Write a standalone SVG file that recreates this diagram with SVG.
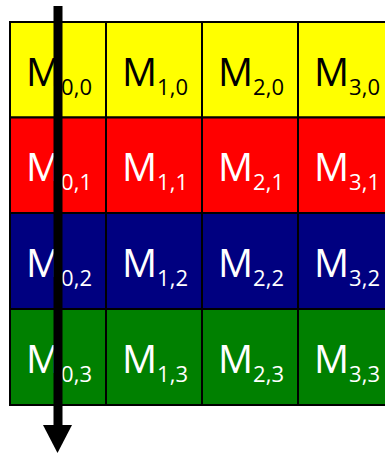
<svg xmlns="http://www.w3.org/2000/svg" width="385" height="455" viewBox="0 0 385 455">
<style>
.cell{stroke:#000;stroke-width:2}
.y{fill:#FFFF00}.r{fill:#FF0000}.b{fill:#000080}.g{fill:#008000}
text{font-family:"Open Sans","Liberation Sans",sans-serif;font-size:39px;text-anchor:middle}
.dk{fill:#000}.lt{fill:#fff}
.s{font-size:22px}
</style>
<rect width="385" height="455" fill="#fff"/>
<g id="M00"><rect class="cell y" x="10" y="22" width="96" height="95.5"/><text class="dk" x="59" y="85.5">M<tspan class="s" dy="9">0,0</tspan></text></g>
<g id="M10"><rect class="cell y" x="106" y="22" width="96" height="95.5"/><text class="dk" x="155" y="85.5">M<tspan class="s" dy="9">1,0</tspan></text></g>
<g id="M20"><rect class="cell y" x="202" y="22" width="96" height="95.5"/><text class="dk" x="251" y="85.5">M<tspan class="s" dy="9">2,0</tspan></text></g>
<g id="M30"><rect class="cell y" x="298" y="22" width="96" height="95.5"/><text class="dk" x="347" y="85.5">M<tspan class="s" dy="9">3,0</tspan></text></g>
<g id="M01"><rect class="cell r" x="10" y="117.5" width="96" height="95.5"/><text class="lt" x="59" y="181">M<tspan class="s" dy="9">0,1</tspan></text></g>
<g id="M11"><rect class="cell r" x="106" y="117.5" width="96" height="95.5"/><text class="lt" x="155" y="181">M<tspan class="s" dy="9">1,1</tspan></text></g>
<g id="M21"><rect class="cell r" x="202" y="117.5" width="96" height="95.5"/><text class="lt" x="251" y="181">M<tspan class="s" dy="9">2,1</tspan></text></g>
<g id="M31"><rect class="cell r" x="298" y="117.5" width="96" height="95.5"/><text class="lt" x="347" y="181">M<tspan class="s" dy="9">3,1</tspan></text></g>
<g id="M02"><rect class="cell b" x="10" y="213" width="96" height="96"/><text class="lt" x="59" y="276.5">M<tspan class="s" dy="9">0,2</tspan></text></g>
<g id="M12"><rect class="cell b" x="106" y="213" width="96" height="96"/><text class="lt" x="155" y="276.5">M<tspan class="s" dy="9">1,2</tspan></text></g>
<g id="M22"><rect class="cell b" x="202" y="213" width="96" height="96"/><text class="lt" x="251" y="276.5">M<tspan class="s" dy="9">2,2</tspan></text></g>
<g id="M32"><rect class="cell b" x="298" y="213" width="96" height="96"/><text class="lt" x="347" y="276.5">M<tspan class="s" dy="9">3,2</tspan></text></g>
<g id="M03"><rect class="cell g" x="10" y="309" width="96" height="96"/><text class="lt" x="59" y="372.5">M<tspan class="s" dy="9">0,3</tspan></text></g>
<g id="M13"><rect class="cell g" x="106" y="309" width="96" height="96"/><text class="lt" x="155" y="372.5">M<tspan class="s" dy="9">1,3</tspan></text></g>
<g id="M23"><rect class="cell g" x="202" y="309" width="96" height="96"/><text class="lt" x="251" y="372.5">M<tspan class="s" dy="9">2,3</tspan></text></g>
<g id="M33"><rect class="cell g" x="298" y="309" width="96" height="96"/><text class="lt" x="347" y="372.5">M<tspan class="s" dy="9">3,3</tspan></text></g>
<g id="connectors">
<line x1="58" y1="6" x2="58" y2="426" stroke="#000" stroke-width="9"/>
<polygon points="43,425 72,425 57.5,453" fill="#000"/>
</g>
</svg>
